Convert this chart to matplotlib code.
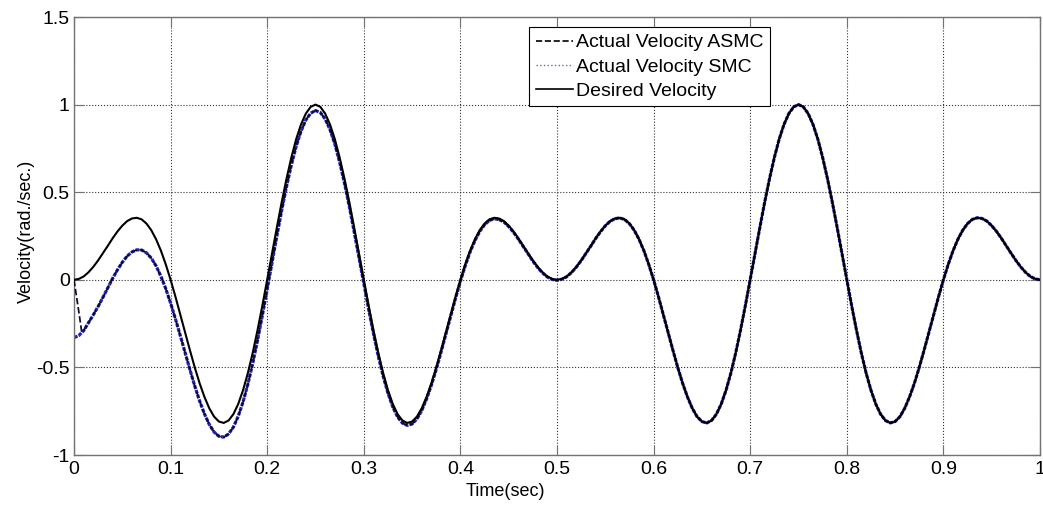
import matplotlib
matplotlib.use("Agg")
import matplotlib.pyplot as plt
import numpy as np

plt.rcParams["font.family"] = ["Liberation Sans", "DejaVu Sans"]

# sample times (s), 0.005 s step
time = np.linspace(0, 1, 201)

desired = [
    0.000, 0.005, 0.019, 0.043, 0.074, 0.111, 0.152, 0.194, 0.237, 0.276,
    0.309, 0.335, 0.350, 0.354, 0.345, 0.321, 0.283, 0.231, 0.166, 0.088,
    0.000, -0.096, -0.197, -0.300, -0.402, -0.500, -0.590, -0.668, -0.733, -0.781,
    -0.809, -0.817, -0.803, -0.767, -0.709, -0.630, -0.532, -0.417, -0.287, -0.147,
    0.000, 0.150, 0.299, 0.443, 0.577, 0.698, 0.803, 0.887, 0.949, 0.987,
    1.000, 0.987, 0.949, 0.887, 0.803, 0.698, 0.577, 0.443, 0.299, 0.150,
    0.000, -0.147, -0.287, -0.417, -0.532, -0.630, -0.709, -0.767, -0.803, -0.817,
    -0.809, -0.781, -0.733, -0.668, -0.590, -0.500, -0.402, -0.300, -0.197, -0.096,
    0.000, 0.088, 0.166, 0.231, 0.283, 0.321, 0.345, 0.354, 0.350, 0.335,
    0.309, 0.276, 0.237, 0.194, 0.152, 0.111, 0.074, 0.043, 0.019, 0.005,
    0.000, 0.005, 0.019, 0.043, 0.074, 0.111, 0.152, 0.194, 0.237, 0.276,
    0.309, 0.335, 0.350, 0.354, 0.345, 0.321, 0.283, 0.231, 0.166, 0.088,
    0.000, -0.096, -0.197, -0.300, -0.402, -0.500, -0.590, -0.668, -0.733, -0.781,
    -0.809, -0.817, -0.803, -0.767, -0.709, -0.630, -0.532, -0.417, -0.287, -0.147,
    0.000, 0.150, 0.299, 0.443, 0.577, 0.698, 0.803, 0.887, 0.949, 0.987,
    1.000, 0.987, 0.949, 0.887, 0.803, 0.698, 0.577, 0.443, 0.299, 0.150,
    0.000, -0.147, -0.287, -0.417, -0.532, -0.630, -0.709, -0.767, -0.803, -0.817,
    -0.809, -0.781, -0.733, -0.668, -0.590, -0.500, -0.402, -0.300, -0.197, -0.096,
    0.000, 0.088, 0.166, 0.231, 0.283, 0.321, 0.345, 0.354, 0.350, 0.335,
    0.309, 0.276, 0.237, 0.194, 0.152, 0.111, 0.074, 0.043, 0.019, 0.005,
    0.000,
]

smc = [
    -0.330, -0.318, -0.290, -0.245, -0.200, -0.152, -0.100, -0.046, 0.008, 0.057,
    0.100, 0.135, 0.159, 0.171, 0.170, 0.154, 0.124, 0.079, 0.020, -0.051,
    -0.133, -0.223, -0.318, -0.416, -0.513, -0.606, -0.691, -0.765, -0.825, -0.869,
    -0.893, -0.898, -0.880, -0.841, -0.779, -0.697, -0.596, -0.478, -0.346, -0.203,
    -0.054, 0.099, 0.250, 0.396, 0.532, 0.655, 0.762, 0.848, 0.912, 0.951,
    0.966, 0.955, 0.918, 0.857, 0.775, 0.671, 0.551, 0.418, 0.275, 0.127,
    -0.022, -0.168, -0.307, -0.436, -0.550, -0.647, -0.726, -0.783, -0.818, -0.831,
    -0.823, -0.794, -0.746, -0.680, -0.601, -0.511, -0.412, -0.310, -0.207, -0.105,
    -0.009, 0.080, 0.158, 0.223, 0.276, 0.314, 0.339, 0.348, 0.344, 0.330,
    0.304, 0.271, 0.232, 0.190, 0.148, 0.107, 0.070, 0.039, 0.016, 0.002,
    -0.003, 0.003, 0.017, 0.041, 0.072, 0.109, 0.150, 0.192, 0.235, 0.274,
    0.308, 0.334, 0.349, 0.353, 0.344, 0.320, 0.282, 0.230, 0.165, 0.087,
    0.000, -0.096, -0.197, -0.300, -0.402, -0.500, -0.590, -0.668, -0.733, -0.781,
    -0.809, -0.817, -0.803, -0.767, -0.709, -0.630, -0.532, -0.417, -0.287, -0.147,
    0.000, 0.150, 0.299, 0.443, 0.577, 0.698, 0.803, 0.887, 0.949, 0.987,
    1.000, 0.987, 0.949, 0.887, 0.803, 0.698, 0.577, 0.443, 0.299, 0.150,
    0.000, -0.147, -0.287, -0.417, -0.532, -0.630, -0.709, -0.767, -0.803, -0.817,
    -0.809, -0.781, -0.733, -0.668, -0.590, -0.500, -0.402, -0.300, -0.197, -0.096,
    0.000, 0.088, 0.166, 0.231, 0.283, 0.321, 0.345, 0.354, 0.350, 0.335,
    0.309, 0.276, 0.237, 0.194, 0.152, 0.111, 0.074, 0.043, 0.019, 0.005,
    0.000,
]

# ASMC: fast initial drop, then it sits on the SMC trace from 0.01 s on
asmc_start_time = [0.0, 0.003, 0.006, 0.008]
asmc_start = [0.0, -0.11, -0.22, -0.30]

xticks = [0, 0.1, 0.2, 0.3, 0.4, 0.5, 0.6, 0.7, 0.8, 0.9, 1]
xticklabels = ["0", "0.1", "0.2", "0.3", "0.4", "0.5", "0.6", "0.7", "0.8", "0.9", "1"]
yticks = [-1, -0.5, 0, 0.5, 1, 1.5]
yticklabels = ["-1", "-0.5", "0", "0.5", "1", "1.5"]

asmc_t = np.concatenate([asmc_start_time, time[2:]])
asmc_v = np.concatenate([asmc_start, smc[2:]])

fig = plt.figure(figsize=(10.43, 5.05), dpi=100)
ax = fig.add_axes([74 / 1043, 50 / 505, 966 / 1043, 438 / 505])

ax.plot(time, smc, color="#2323b4", lw=2.3, ls=(0, (1.2, 0.35)), label="Actual Velocity SMC", zorder=2)
ax.plot(asmc_t, asmc_v, color="#0a0a30", lw=1.25, ls="--", label="Actual Velocity ASMC", zorder=3)
ax.plot(time, desired, color="black", lw=1.5, label="Desired Velocity", zorder=4)

ax.set_xlim(0, 1)
ax.set_ylim(-1, 1.5)
ax.set_xticks(xticks)
ax.set_xticklabels(xticklabels)
ax.set_yticks(yticks)
ax.set_yticklabels(yticklabels)
ax.tick_params(direction="in", length=7, width=0.8, color="0.45", labelsize=14,
               top=True, right=True, pad=4.5)
ax.tick_params(axis="y", pad=3)
for s in ax.spines.values():
    s.set_color("0.45")
    s.set_linewidth(1.0)
ax.grid(True, ls=":", color="0.2", lw=0.8)
ax.set_xlabel("Time(sec)", fontsize=13)
ax.set_ylabel("Velocity(rad./sec.)", fontsize=13)
ax.xaxis.set_label_coords(0.447, -0.064)
ax.yaxis.set_label_coords(-0.040, 0.51)

handles, labels = ax.get_legend_handles_labels()
order = [1, 0, 2]
leg = ax.legend([handles[i] for i in order], [labels[i] for i in order],
                loc="upper left", bbox_to_anchor=(0.471, 0.977), fontsize=14,
                frameon=True, fancybox=False, edgecolor="black", framealpha=1,
                handlelength=1.9, handletextpad=0.15, labelspacing=0.33,
                borderpad=0.35, borderaxespad=0)
leg.get_frame().set_linewidth(0.8)
leg_lines = leg.get_lines()
leg_lines[0].set_color("black")
leg_lines[0].set_linewidth(1.2)
leg_lines[1].set_linewidth(1.0)
leg_lines[1].set_linestyle(":")
leg_lines[1].set_color("#6a6aa8")
leg_lines[2].set_linewidth(1.2)

fig.savefig("out.png", dpi=100)
